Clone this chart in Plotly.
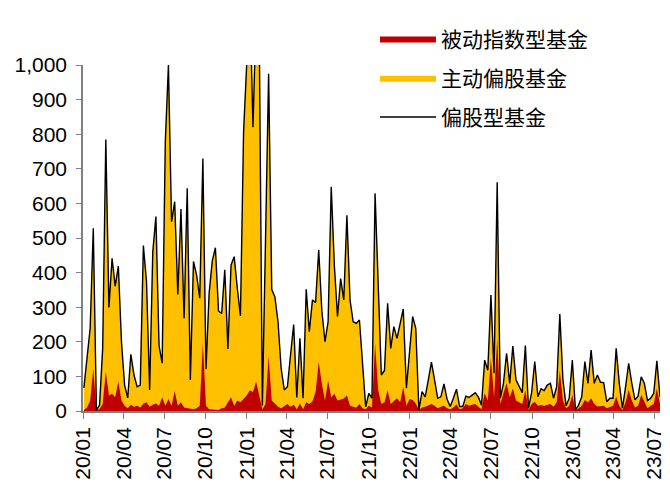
import pandas as pd
import plotly.graph_objects as go

# 偏股型基金 weekly issuance (total) and the passive index part
total = [67, 162, 239, 528, 2, 17, 181, 785, 299, 441, 361, 419, 200, 75, 38, 164, 104, 70, 75, 478,
         374, 61, 460, 562, 189, 138, 778, 1000, 547, 605,
         337, 584, 268, 644, 90, 432, 393, 326, 730, 121, 340, 434, 472, 289, 282, 408, 179, 422, 446, 355, 275,
         807, 1050, 1200, 820, 1150, 1100, 16, 490, 975, 351, 330, 258, 123, 61, 70, 162, 250, 39, 210, 37,
         352, 229, 321, 314, 465, 290, 200, 258, 648, 420, 273, 383, 321, 566, 321, 258, 253, 263, 130, 12, 51, 37,
         629, 360, 104, 117, 311, 181, 244, 210, 253, 295, 66, 176, 273, 239, 3, 56, 41, 90, 141, 90,
         37, 41, 78, 34, 13, 37, 63, 13, 13, 43, 39,
         46, 53, 40, 17, 147, 118, 335, 109, 661, 37, 80, 167, 80, 188, 90, 70, 53, 189, 8, 53,
         143, 41, 64, 59, 75, 80, 37, 70, 280, 90, 15, 37, 147, 3,
         17, 41, 143, 80, 176, 80, 104, 83, 82, 27, 37, 37, 181, 80, 8, 70, 138, 80, 32, 43,
         99, 80, 30, 37, 51, 145, 41]

passive = [3, 10, 30, 123, 2, 5, 20, 114, 45, 50, 40, 85, 30, 15, 8, 18, 12, 15, 10, 22,
           25, 12, 18, 22, 15, 40, 15, 35, 15, 58,
           15, 25, 10, 8, 5, 5, 8, 15, 195, 15, 5, 5, 3, 3, 8, 10, 25, 40, 15, 30, 25,
           35, 45, 60, 55, 85, 40, 5, 20, 158, 30, 20, 12, 8, 15, 20, 12, 18, 5, 22, 5,
           25, 20, 28, 55, 142, 79, 30, 88, 40, 50, 30, 33, 36, 45, 15, 12, 10, 20, 8, 5, 15, 10,
           195, 60, 20, 25, 60, 20, 30, 37, 25, 70, 15, 35, 32, 22, 3, 10, 12, 15, 20, 15,
           8, 12, 15, 8, 5, 10, 19, 5, 8, 20, 15,
           18, 20, 12, 5, 51, 30, 152, 40, 210, 20, 51, 80, 40, 65, 30, 25, 20, 60, 3, 20,
           27, 15, 17, 15, 18, 20, 12, 25, 118, 30, 8, 15, 46, 2,
           8, 15, 32, 25, 37, 20, 13, 13, 15, 8, 12, 15, 41, 15, 3, 25, 61, 30, 10, 15,
           46, 25, 8, 15, 20, 65, 20]

dates = pd.date_range("2020-01-03", periods=len(total), freq="7D")

RED = "#C00000"
YELLOW = "#FFC000"
CJK = "Noto Sans CJK SC"

fig = go.Figure()

fig.add_trace(go.Scatter(
    x=dates, y=total, name="主动偏股基金", mode="lines",
    line=dict(width=0, color=YELLOW), fill="tozeroy", fillcolor=YELLOW,
    legendrank=2, legendgroup="b",
))
fig.add_trace(go.Scatter(
    x=dates, y=passive, name="被动指数型基金", mode="lines",
    line=dict(width=0, color=RED), fill="tozeroy", fillcolor=RED,
    legendrank=1, legendgroup="a",
))
fig.add_trace(go.Scatter(
    x=dates, y=total, name="偏股型基金", mode="lines",
    line=dict(width=1.4, color="black"),
    legendrank=3, legendgroup="c",
))

# page body adds an 8px offset, so the figure is drawn 8px smaller
fig.update_layout(
    width=662, height=480,
    margin=dict(l=75, r=10, t=57, b=77),
    plot_bgcolor="white", paper_bgcolor="white",
    font=dict(family="Liberation Sans, Arial", size=21, color="black"),
    showlegend=True,
    legend=dict(
        x=0.506, y=1.135, xanchor="left", yanchor="top",
        font=dict(family=CJK, size=21),
        traceorder="grouped", tracegroupgap=9,
        itemwidth=56, bgcolor="rgba(0,0,0,0)",
    ),
)

fig.update_xaxes(
    type="date", automargin=False,
    range=["2020-01-01", dates[-1].strftime("%Y-%m-%d")],
    tick0="2020-01-01", dtick="M3", tickformat="%y/%m",
    tickangle=-90, ticks="outside", ticklen=6, tickcolor="#808080",
    showline=True, linecolor="#808080", linewidth=1.5,
    showgrid=False, zeroline=False,
)
fig.update_yaxes(
    automargin=False,
    range=[0, 1000], dtick=100, tickformat=",",
    ticks="outside", ticklen=5, tickcolor="#808080", ticklabelstandoff=5,
    showline=True, linecolor="#808080", linewidth=1.5,
    showgrid=False, zeroline=False,
)

fig.write_html("out.html")
